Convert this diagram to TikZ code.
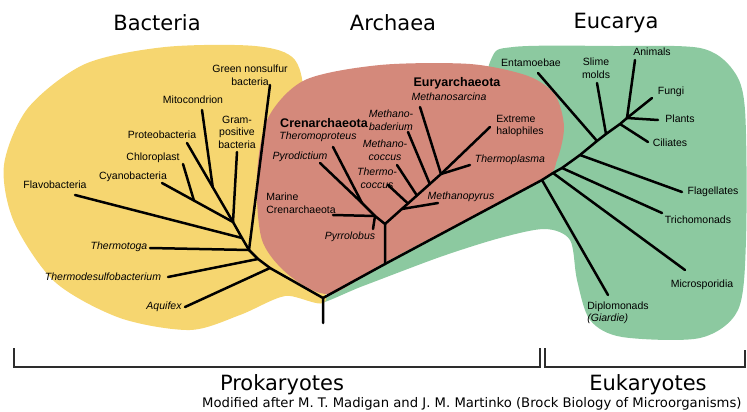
\documentclass[tikz,border=0pt]{standalone}
\usepackage{fontspec}
\setmainfont{Liberation Sans}
\newfontfamily\headfont{DejaVu Sans}
\usetikzlibrary{calc}
\definecolor{bactyellow}{RGB}{246,214,112}
\definecolor{archred}{RGB}{212,137,123}
\definecolor{eukgreen}{RGB}{140,201,160}
\definecolor{inkgray}{RGB}{45,45,45}
\begin{document}
\begin{tikzpicture}[x=1pt, y=-1pt,
  branch/.style={line width=2.5pt, line cap=round, line join=round},
  taxon/.style={font=\fontsize{10.5}{12.5}\selectfont, inner sep=0pt, align=center},
  taxonit/.style={taxon, font=\fontsize{10.5}{12.5}\selectfont\itshape},
  group/.style={taxon, font=\fontsize{12.5}{14}\selectfont\bfseries},
  headline/.style={font=\headfont\fontsize{21}{24}\selectfont, inner sep=0pt},
  credit/.style={font=\headfont\fontsize{13.2}{14}\selectfont, inner sep=0pt},
  bracket/.style={line width=1.4pt, draw=inkgray}
]
\useasboundingbox (0,0) rectangle (747,412);

\fill[eukgreen] plot[smooth cycle] coordinates {(322,301) (363,286) (440,257) (500,238) (545,229) (570,240) (577,280) (590,320) (622,337) (700,338) (738,310) (746,240) (745,110) (733,70) (700,48) (613,46) (513,47) (490,62) (470,150) (400,240)};
\fill[bactyellow] plot[smooth cycle] coordinates {(326,300) (285,296) (240,315) (190,330) (120,318) (55,282) (14,222) (4,165) (28,108) (85,64) (165,47) (255,46) (295,60) (305,110) (302,220)};
\fill[archred] plot[smooth cycle] coordinates {(330,294) (290,276) (262,240) (257,175) (268,118) (305,80) (380,65) (470,64) (528,76) (555,95) (564,127) (557,160) (543,179) (450,228) (380,265)};

\node[headline] (bacteria) at (157,23) {Bacteria};
\node[headline] (archaea) at (393,23) {Archaea};
\node[headline] (eucarya) at (616,23) {Eucarya};

\coordinate (root) at (323,323);
\coordinate (fork) at (323,298);
\coordinate (b1) at (270,268);
\coordinate (b2) at (258,259);
\coordinate (b3) at (249,250);
\coordinate (b4) at (242,238);
\coordinate (b5) at (233,222);
\coordinate (aquifextip) at (185,307);
\coordinate (thdesulftip) at (168,277);
\coordinate (thtogatip) at (150,248);
\coordinate (greentip) at (270,85);
\coordinate (flavotip) at (75,195);
\coordinate (cyanotip) at (162,183);
\coordinate (chlorotip) at (183,164);
\coordinate (proteotip) at (187,143);
\coordinate (mitotip) at (202,110);
\coordinate (gramtip) at (237,152);
\coordinate (cyanojoin) at ($(cyanotip)!0.45!(b5)$);
\coordinate (proteojoin) at ($(proteotip)!0.56!(b5)$);

\coordinate (a0) at (385,264);
\coordinate (a1) at (385,224);
\coordinate (c1) at (375,216);
\coordinate (c2) at (362,203);
\coordinate (marinetip) at (333,215);
\coordinate (pyrrotip) at (373,229);
\coordinate (pyrodtip) at (320,163);
\coordinate (theroptip) at (333,147);
\coordinate (etop) at (441,174);
\coordinate (n1) at ($(a1)!0.3!(etop)$);
\coordinate (n2) at ($(a1)!0.41!(etop)$);
\coordinate (n3) at ($(a1)!0.57!(etop)$);
\coordinate (n4) at ($(a1)!0.8!(etop)$);
\coordinate (mpyrustip) at (438,203);
\coordinate (thcoccustip) at (388,185);
\coordinate (mcoccustip) at (397,165);
\coordinate (mbacttip) at (408,132);
\coordinate (msarctip) at (420,107);
\coordinate (halotip) at (490,127);
\coordinate (thplasmatip) at (470,165);

\coordinate (e1) at (542,180);
\coordinate (e2) at (553,173);
\coordinate (e3) at (562,168);
\coordinate (e4) at (580,155);
\coordinate (e5) at (597,141);
\coordinate (e6) at (606,134);
\coordinate (e7) at (620,124);
\coordinate (e8) at (627,118);
\coordinate (diplotip) at (608,295);
\coordinate (microtip) at (685,270);
\coordinate (trichotip) at (662,213);
\coordinate (flagtip) at (682,192);
\coordinate (entatip) at (538,73);
\coordinate (slimetip) at (597,83);
\coordinate (ciliatip) at (648,142);
\coordinate (animaltip) at (635,60);
\coordinate (fungitip) at (652,98);
\coordinate (planttip) at (658,120);

\draw[branch] (root) -- (fork) -- (b1) -- (b2) -- (b3) -- (b4) -- (b5);
\draw[branch] (aquifextip) -- (b1);
\draw[branch] (thdesulftip) -- (b2);
\draw[branch] (thtogatip) -- (b3);
\draw[branch] (greentip) -- (b3);
\draw[branch] (flavotip) -- (b4);
\draw[branch] (cyanotip) -- (b5);
\draw[branch] (chlorotip) -- (cyanojoin);
\draw[branch] (proteotip) -- (b5);
\draw[branch] (mitotip) -- (proteojoin);
\draw[branch] (gramtip) -- (b5);

\draw[branch] (fork) -- (a0) -- (e1) -- (e2) -- (e3) -- (e4) -- (e5) -- (e6) -- (e7) -- (e8);
\draw[branch] (a0) -- (a1) -- (c1) -- (c2);
\draw[branch] (marinetip) -- (c1);
\draw[branch] (pyrrotip) -- (c1);
\draw[branch] (pyrodtip) -- (c2);
\draw[branch] (theroptip) -- (c2);
\draw[branch] (a1) -- (etop);
\draw[branch] (mpyrustip) -- (n1);
\draw[branch] (thcoccustip) -- (n2);
\draw[branch] (mcoccustip) -- (n3);
\draw[branch] (mbacttip) -- (n4);
\draw[branch] (msarctip) -- (etop);
\draw[branch] (halotip) -- (etop);
\draw[branch] (thplasmatip) -- (etop);

\draw[branch] (diplotip) -- (e1);
\draw[branch] (microtip) -- (e2);
\draw[branch] (trichotip) -- (e3);
\draw[branch] (flagtip) -- (e4);
\draw[branch] (entatip) -- (e5);
\draw[branch] (slimetip) -- (e6);
\draw[branch] (ciliatip) -- (e7);
\draw[branch] (animaltip) -- (e8);
\draw[branch] (fungitip) -- (e8);
\draw[branch] (planttip) -- (e8);

\node[taxon] (greennonsulfur) at (250,75) {Green nonsulfur\\bacteria};
\node[taxon] (mitocondrion) at (193,100) {Mitocondrion};
\node[taxon] (grampositive) at (237,132) {Gram-\\positive\\bacteria};
\node[taxon] (proteobacteria) at (162,135) {Proteobacteria};
\node[taxon] (chloroplast) at (153,158) {Chloroplast};
\node[taxon] (cyanobacteria) at (133,177) {Cyanobacteria};
\node[taxon] (flavobacteria) at (55,185) {Flavobacteria};
\node[taxonit] (thermotoga) at (119,247) {Thermotoga};
\node[taxonit] (thermodesulfo) at (103,277) {Thermodesulfobacterium};
\node[taxonit] (aquifex) at (164,307) {Aquifex};

\node[group] (euryarchaeota) at (457,83) {Euryarchaeota};
\node[taxonit] (methanosarcina) at (449,97) {Methanosarcina};
\node[group] (crenarchaeota) at (324,123) {Crenarchaeota};
\node[taxonit] (theromoproteus) at (318,137) {Theromoproteus};
\node[taxonit] (methanobaderium) at (391,120) {Methano-\\baderium};
\node[taxonit] (methanococcus) at (385,150) {Methano-\\coccus};
\node[taxonit] (pyrodictium) at (300,157) {Pyrodictium};
\node[taxonit] (thermococcus) at (377,178) {Thermo-\\coccus};
\node[taxon, align=left] (halophiles) at (520,126) {Extreme\\halophiles};
\node[taxonit] (thermoplasma) at (510,160) {Thermoplasma};
\node[taxon, align=left] (marine) at (301,203) {Marine\\Crenarchaeota};
\node[taxonit] (methanopyrus) at (461,197) {Methanopyrus};
\node[taxonit] (pyrrolobus) at (350,237) {Pyrrolobus};

\node[taxon] (entamoebae) at (531,63) {Entamoebae};
\node[taxon] (slimemolds) at (596,68) {Slime\\molds};
\node[taxon] (animals) at (652,52) {Animals};
\node[taxon] (fungi) at (671,92) {Fungi};
\node[taxon] (plants) at (680,119) {Plants};
\node[taxon] (ciliates) at (670,143) {Ciliates};
\node[taxon] (flagellates) at (713,192) {Flagellates};
\node[taxon] (trichomonads) at (698,220) {Trichomonads};
\node[taxon] (microsporidia) at (702,285) {Microsporidia};
\node[taxon, align=left] (diplomonads) at (618,313) {Diplomonads\\\textit{(Giardie)}};

\coordinate (protl) at (14,348);
\coordinate (protlb) at (14,367);
\coordinate (protrb) at (540,367);
\coordinate (protr) at (540,348);
\coordinate (eukl) at (545,348);
\coordinate (euklb) at (545,367);
\coordinate (eukrb) at (745,367);
\coordinate (eukr) at (745,350);
\draw[bracket] (protl) -- (protlb) -- (protrb) -- (protr);
\draw[bracket] (eukl) -- (euklb) -- (eukrb) -- (eukr);

\node[headline] (prokaryotes) at (282,385) {Prokaryotes};
\node[headline] (eukaryotes) at (648,385) {Eukaryotes};
\node[credit, anchor=west] (source) at (202,404) {Modified after M. T. Madigan and J. M. Martinko\ (Brock Biology of Microorganisms)};
\end{tikzpicture}
\end{document}
